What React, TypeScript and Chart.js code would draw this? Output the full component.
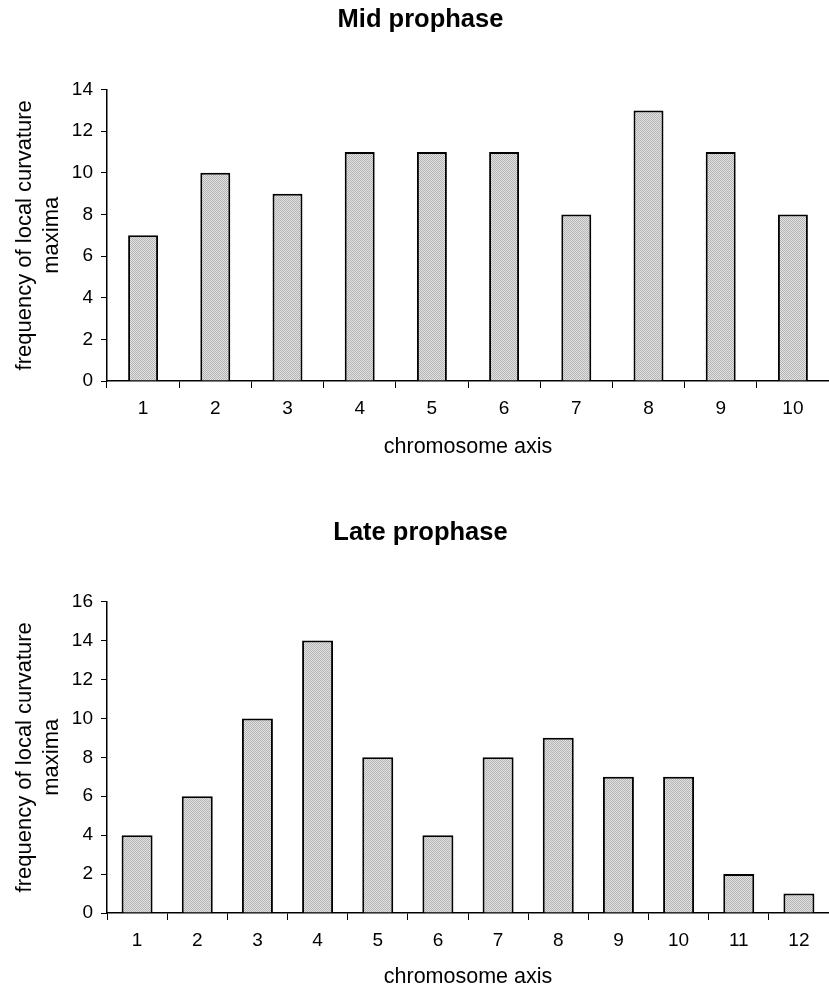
import React, { useEffect, useRef } from 'react';
import { Chart, registerables } from 'chart.js';

Chart.register(...registerables);

const midCategories = ['1', '2', '3', '4', '5', '6', '7', '8', '9', '10'];
const midValues = [7, 10, 9, 11, 11, 11, 8, 13, 11, 8];
const midMax = 14;

const lateCategories = ['1', '2', '3', '4', '5', '6', '7', '8', '9', '10', '11', '12'];
const lateValues = [4, 6, 10, 14, 8, 4, 8, 9, 7, 7, 2, 1];
const lateMax = 16;

const tickStep = 2;
const yTitleLines = ['frequency of local curvature', 'maxima'];
const xTitle = 'chromosome axis';

const FONT = '"Liberation Sans", Arial, Helvetica, sans-serif';

function makePattern(): CanvasPattern | string {
  const c = document.createElement('canvas');
  c.width = 2;
  c.height = 2;
  const g = c.getContext('2d');
  if (!g) return '#cbcbcb';
  g.fillStyle = '#e2e2e2';
  g.fillRect(0, 0, 2, 2);
  g.fillStyle = '#b4b4b4';
  g.fillRect(0, 0, 1, 1);
  g.fillRect(1, 1, 1, 1);
  return g.createPattern(c, 'repeat') || '#cbcbcb';
}

type PanelProps = {
  title: string;
  categories: string[];
  values: number[];
  yMax: number;
  top: number;
  height: number;
  titlePadTop: number;
  titlePadBottom: number;
  xHeight: number;
  xTitlePadBottom: number;
  barPct: number;
};

function Panel(p: PanelProps) {
  const ref = useRef<HTMLCanvasElement | null>(null);
  useEffect(() => {
    if (!ref.current) return;
    const pattern = makePattern();
    const chart = new Chart(ref.current, {
      type: 'bar',
      data: {
        labels: p.categories,
        datasets: [
          {
            data: p.values,
            backgroundColor: pattern as any,
            borderColor: '#000',
            borderWidth: 2,
            barPercentage: p.barPct,
            categoryPercentage: 1,
          },
        ],
      },
      options: {
        responsive: false,
        animation: false,
        devicePixelRatio: 1,
        layout: { padding: 0 },
        plugins: {
          legend: { display: false },
          tooltip: { enabled: false },
          title: {
            display: true,
            text: p.title,
            color: '#000',
            font: { family: FONT, size: 25.5, weight: 'bold', lineHeight: 1.2 },
            padding: { top: p.titlePadTop, bottom: p.titlePadBottom },
          },
        },
        scales: {
          x: {
            grid: {
              display: true,
              drawOnChartArea: false,
              drawTicks: true,
              tickLength: 7,
              color: '#000',
              lineWidth: 1,
              offset: true,
            },
            border: { display: true, color: '#000', width: 1.5 },
            ticks: {
              color: '#000',
              font: { family: FONT, size: 19, lineHeight: 1.2 },
              padding: 9,
              maxRotation: 0,
              autoSkip: false,
            },
            title: {
              display: true,
              text: xTitle,
              color: '#000',
              font: { family: FONT, size: 21.5, lineHeight: 1.2 },
              padding: { top: 0, bottom: p.xTitlePadBottom },
            },
            afterFit: (s: any) => {
              s.height = p.xHeight;
            },
          },
          y: {
            min: 0,
            max: p.yMax,
            grid: {
              display: true,
              drawOnChartArea: false,
              drawTicks: true,
              tickLength: 6,
              color: '#000',
              lineWidth: 1,
            },
            border: { display: true, color: '#000', width: 1.5 },
            ticks: {
              stepSize: tickStep,
              color: '#000',
              font: { family: FONT, size: 19, lineHeight: 1.2 },
              padding: 8,
            },
            title: {
              display: true,
              text: yTitleLines,
              color: '#000',
              font: { family: FONT, size: 22, lineHeight: 1.25 },
              padding: { top: 11, bottom: 0 },
            },
            afterFit: (s: any) => {
              s.width = 107;
            },
          },
          yRight: {
            position: 'right',
            display: true,
            grid: { display: false },
            border: { display: false },
            ticks: { display: false },
            afterFit: (s: any) => {
              s.width = 12;
            },
          },
        },
      },
    });
    return () => chart.destroy();
  }, []);
  return (
    <canvas
      ref={ref}
      width={841}
      height={p.height}
      style={{
        position: 'absolute',
        left: 0,
        top: p.top,
        width: 841,
        height: p.height,
        display: 'block',
      }}
    />
  );
}

export default function App() {
  return (
    <div
      style={{
        position: 'absolute',
        left: 0,
        top: 0,
        width: 829,
        height: 990,
        overflow: 'hidden',
        background: '#fff',
      }}
    >
      <Panel
        title="Mid prophase"
        categories={midCategories}
        values={midValues}
        yMax={midMax}
        top={0}
        height={470}
        titlePadTop={5}
        titlePadBottom={54}
        xHeight={89}
        xTitlePadBottom={10}
        barPct={0.415}
      />
      <Panel
        title="Late prophase"
        categories={lateCategories}
        values={lateValues}
        yMax={lateMax}
        top={470}
        height={520}
        titlePadTop={48}
        titlePadBottom={53}
        xHeight={77}
        xTitlePadBottom={0}
        barPct={0.515}
      />
    </div>
  );
}
